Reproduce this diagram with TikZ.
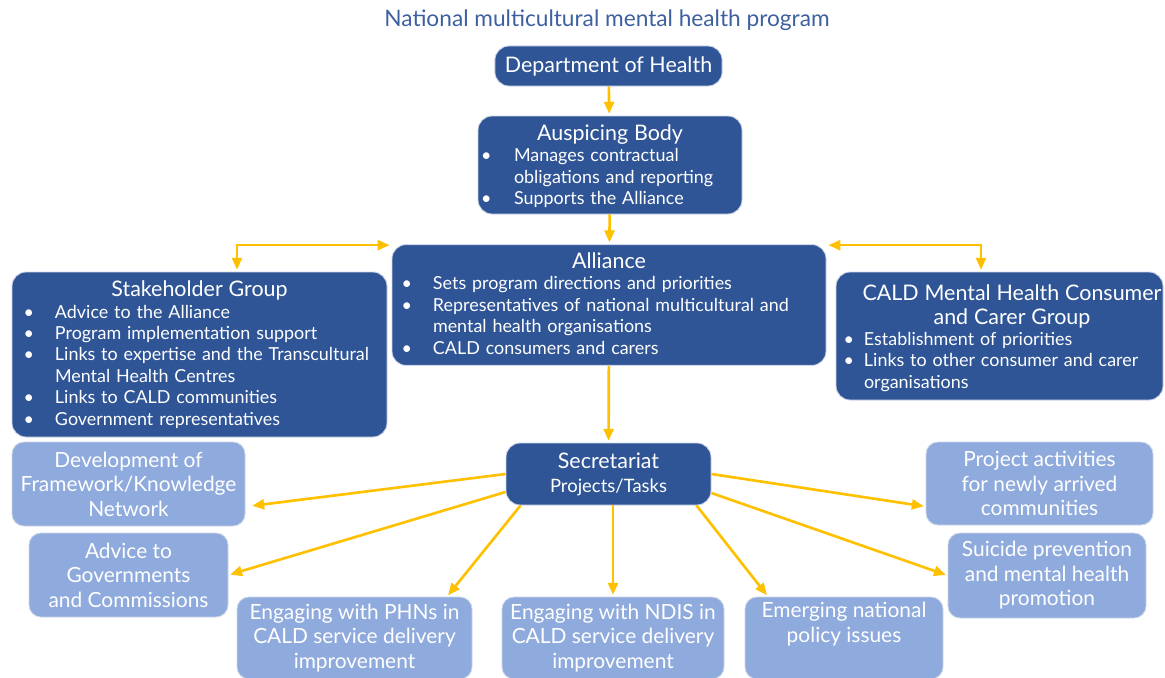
\documentclass[tikz,border=0pt]{standalone}
\usepackage{fontspec}
\setmainfont{Lato}
\usepackage{tikz}
\usetikzlibrary{arrows.meta,positioning}

\definecolor{darkblue}{RGB}{47,85,151}
\definecolor{lightblue}{RGB}{143,170,220}
\definecolor{linkgold}{RGB}{255,192,0}
\definecolor{edgegrey}{RGB}{205,214,232}
\definecolor{titleblue}{RGB}{62,96,160}

\hyphenpenalty=10000
\exhyphenpenalty=10000

\NewDocumentCommand\bitem{O{0.66cm} O{0.42cm} m}{\par\noindent\hangindent=#1\hangafter=1%
  \makebox[#1][r]{\textbullet\hspace{#2}}#3}
\newcommand{\headline}[2][0cm]{\par\hbox to\hsize{\hss\hspace{#1}#2\hss}\par}
\newcommand{\lift}[1]{\par\vspace*{#1}}
\newcommand{\bodyfont}{\fontsize{10.2}{12.2}\selectfont}
\newcommand{\headfont}{\fontsize{12.2}{13.6}\selectfont}

\begin{document}
\begin{tikzpicture}[shorten >=1pt,auto]
       \tikzstyle{darkbox}=[draw=edgegrey,line width=0.5pt,fill=darkblue,text=white,
         rounded corners=0.28cm,inner xsep=0.2cm,inner ysep=0pt,align=left]
       \tikzstyle{lightbox}=[draw=edgegrey,line width=0.5pt,fill=lightblue,text=white,
         rounded corners=0.24cm,inner sep=0pt,align=center,
         font=\fontsize{11.9}{13.9}\selectfont]
       \tikzstyle{link}=[draw=linkgold,line width=1.5pt,-{Triangle[length=0.24cm,width=0.2cm]}]
       \tikzstyle{biglink}=[draw=linkgold,line width=1.5pt,
         {Triangle[length=0.24cm,width=0.2cm]}-{Triangle[length=0.24cm,width=0.2cm]}]

       \useasboundingbox (0,0) rectangle (23.3,-13.54);

       \node[text=titleblue,font=\fontsize{12.9}{14}\selectfont] (title) at (12.14,-0.40)
         {National multicultural mental health program};

       \node[darkbox,minimum width=4.46cm,minimum height=0.80cm,align=center,font=\headfont]
         (dept) at (12.17,-1.32) {Department of Health};

       \node[darkbox,minimum width=5.28cm,minimum height=1.96cm,text width=4.88cm]
         (ausp) at (12.20,-3.30)
         {\headfont\headline{Auspicing Body}\bodyfont
          \bitem[0.52cm][0.45cm]{Manages contractual\newline obligations and reporting}
          \bitem[0.52cm][0.45cm]{Supports the Alliance}\lift{0.12cm}};

       \node[darkbox,minimum width=8.68cm,minimum height=2.40cm,text width=8.28cm]
         (alli) at (12.18,-6.10)
         {\headfont\headline{Alliance}\bodyfont
          \bitem[0.62cm][0.42cm]{Sets program directions and priorities}
          \bitem[0.62cm][0.42cm]{Representatives of national multicultural and\newline mental health organisations}
          \bitem[0.62cm][0.42cm]{CALD consumers and carers}\lift{0.22cm}};

       \node[darkbox,minimum width=7.50cm,minimum height=3.30cm,text width=7.10cm]
         (stake) at (3.99,-7.09)
         {\headfont\headline{Stakeholder Group}\bodyfont
          \bitem{Advice to the Alliance}
          \bitem{Program implementation support}
          \bitem{Links to expertise and the Transcultural\newline Mental Health Centres}
          \bitem{Links to CALD communities}
          \bitem{Government representatives}\lift{0.16cm}};

       \node[darkbox,minimum width=6.54cm,minimum height=2.56cm,text width=6.14cm]
         (cald) at (19.99,-6.72)
         {\headfont\headline[0.5cm]{CALD Mental Health Consumer}\headline[0.5cm]{and Carer Group}\bodyfont
          \bitem[0.36cm][0.2cm]{Establishment of priorities}
          \bitem[0.36cm][0.2cm]{Links to other consumer and carer\newline organisations}\lift{0.08cm}};

       \node[darkbox,minimum width=4.10cm,minimum height=1.24cm,align=center]
         (sec) at (12.17,-9.48)
         {\headfont Secretariat\\[1.5pt]\fontsize{10.5}{12}\selectfont Projects/Tasks};

       % task boxes
       \node[lightbox,minimum width=4.66cm,minimum height=1.68cm] (dev) at (2.57,-9.68)
         {Development of\\Framework/Knowledge\\Network};
       \node[lightbox,minimum width=3.98cm,minimum height=1.68cm] (adv) at (2.57,-11.50)
         {Advice to\\Governments\\and Commissions};
       \node[lightbox,minimum width=4.70cm,minimum height=1.64cm] (phn) at (7.09,-12.76)
         {Engaging with PHNs in\\CALD service delivery\\improvement};
       \node[lightbox,minimum width=4.44cm,minimum height=1.64cm] (ndis) at (12.26,-12.76)
         {Engaging with NDIS in\\CALD service delivery\\improvement};
       \node[lightbox,minimum width=3.96cm,minimum height=1.64cm] (emer) at (16.88,-12.76)
         {Emerging national\\policy issues\\\strut};
       \node[lightbox,minimum width=4.54cm,minimum height=1.66cm] (proj) at (20.79,-9.67)
         {Project activities\\for newly arrived\\communities};
       \node[lightbox,minimum width=3.96cm,minimum height=1.70cm] (suic) at (20.94,-11.51)
         {Suicide prevention\\and mental health\\promotion};

       \path[link] (dept) -- (ausp);
       \path[link] (ausp) -- (alli);
       \path[link] (alli) -- (sec);
       \path[biglink] ([xshift=-0.04cm,yshift=-0.02cm]alli.north west) -| ([xshift=0.75cm]stake.north);
       \path[biglink] ([xshift=0.04cm,yshift=-0.02cm]alli.north east) -| ([xshift=-0.37cm]cald.north);

       \path[link] (sec.west) -- ([xshift=0.1cm,yshift=-0.44cm]dev.east);
       \path[link] ([yshift=-0.36cm]sec.west) -- (adv.east);
       \path[link] ([xshift=0.3cm]sec.south west) -- ([xshift=1.85cm]phn.north);
       \path[link] (sec.south -| ndis.north) -- (ndis.north);
       \path[link] ([xshift=-0.3cm]sec.south east) -- ([xshift=-1.52cm]emer.north);
       \path[link] (sec.east) -- ([yshift=-0.46cm]proj.west);
       \path[link] ([yshift=-0.38cm]sec.east) -- (suic.west);
     \end{tikzpicture}
\end{document}
